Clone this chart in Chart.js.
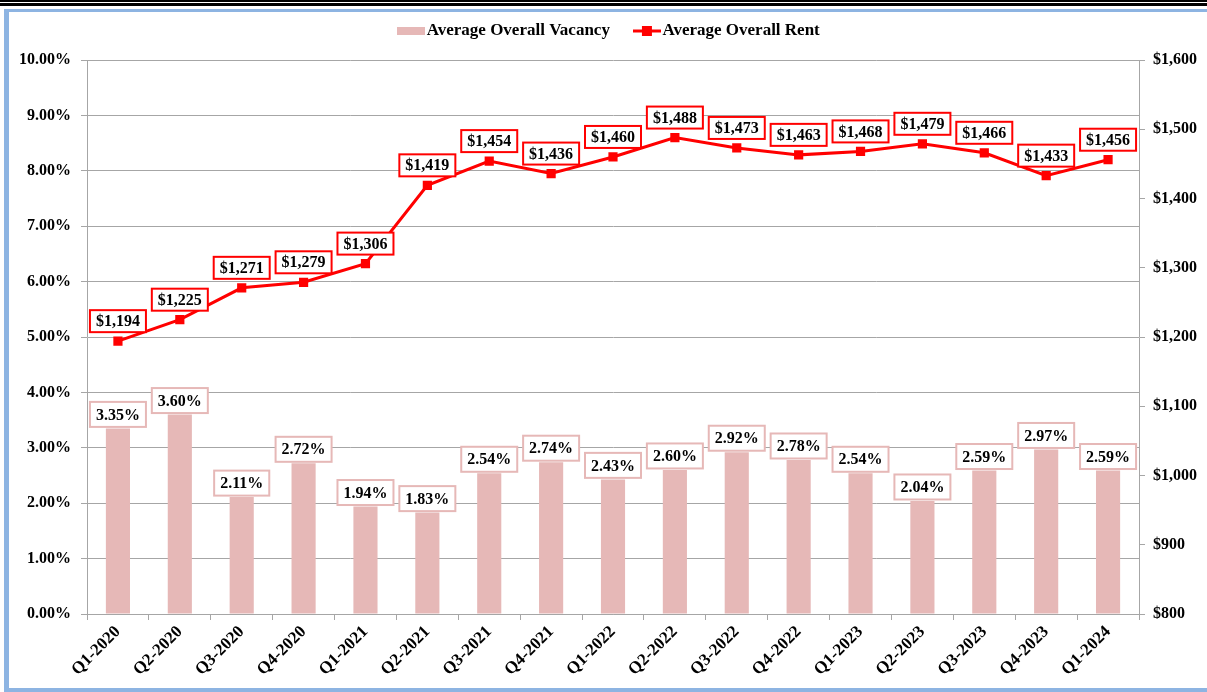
<!DOCTYPE html>
<html><head><meta charset="utf-8">
<script src="https://cdn.jsdelivr.net/npm/chart.js@4.4.1/dist/chart.umd.min.js"></script>
<style>
html,body{margin:0;padding:0;background:#fff;}
#wrap{position:relative;width:1207px;height:692px;overflow:hidden;background:#fff;}
canvas{position:absolute;left:0;top:0;}
.f{position:absolute;}
</style></head><body>
<div id="wrap">
<canvas id="c" width="1207" height="692"></canvas>
<div class="f" style="left:0;top:0;width:1207px;height:2px;background:#000"></div>
<div class="f" style="left:0;top:3px;width:1207px;height:3px;background:#000"></div>
<div class="f" style="left:4px;top:9px;width:1203px;height:3px;background:#8db4e2"></div>
<div class="f" style="left:4px;top:9px;width:5px;height:683px;background:#8db4e2"></div>
<div class="f" style="left:4px;top:688px;width:1203px;height:4px;background:#8db4e2"></div>
</div>
<script>
const categories = ['Q1-2020','Q2-2020','Q3-2020','Q4-2020','Q1-2021','Q2-2021','Q3-2021','Q4-2021','Q1-2022','Q2-2022','Q3-2022','Q4-2022','Q1-2023','Q2-2023','Q3-2023','Q4-2023','Q1-2024'];
const vacancy = [3.35,3.60,2.11,2.72,1.94,1.83,2.54,2.74,2.43,2.60,2.92,2.78,2.54,2.04,2.59,2.97,2.59];
const rent = [1194,1225,1271,1279,1306,1419,1454,1436,1460,1488,1473,1463,1468,1479,1466,1433,1456];
const seriesNames = ['Average Overall Vacancy','Average Overall Rent'];

const FONT = '"Liberation Serif", "Times New Roman", serif';
const PINK = '#e6b8b7', RED = '#ff0000', GRID = '#a6a6a6';

function mk(w,h,fn){const c=document.createElement('canvas');c.width=w;c.height=h;fn(c.getContext('2d'));return c;}
const vacIcon = mk(28,8,g=>{g.fillStyle=PINK;g.fillRect(0,0,28,8);});
const rentIcon = mk(28,10,g=>{g.fillStyle=RED;g.fillRect(0,4,28,3);g.fillRect(9,0,10,10);});
const legendIcons = [vacIcon, rentIcon];

const legendFix = {
  id:'legendFix',
  beforeLayout(chart){
    const lg = chart.legend;
    if(lg && !lg.__p){
      const f = lg.fit;
      lg.fit = function(){ f.call(this); this.height = 68; };
      lg.__p = true;
    }
  }
};

const boxLabels = {
  id:'boxLabels',
  afterDatasetsDraw(chart){
    const ctx = chart.ctx;
    ctx.save();
    ctx.font = 'bold 16px ' + FONT;
    ctx.textAlign = 'center'; ctx.textBaseline = 'middle';
    const drawBox = (text,x,cy,h,border)=>{
      const w = ctx.measureText(text).width + 12;
      ctx.fillStyle = '#fff'; ctx.fillRect(x-w/2, cy-h/2, w, h);
      ctx.lineWidth = 2; ctx.strokeStyle = border; ctx.strokeRect(x-w/2, cy-h/2, w, h);
      ctx.fillStyle = '#000'; ctx.fillText(text, x, cy+1);
    };
    chart.getDatasetMeta(0).data.forEach((el,i)=>drawBox(vacancy[i].toFixed(2)+'%', el.x, el.y-14, 25, PINK));
    chart.getDatasetMeta(1).data.forEach((el,i)=>drawBox('$'+rent[i].toLocaleString('en-US'), el.x, el.y-20, 22, RED));
    ctx.restore();
  }
};

const tickFont = {family:FONT, size:16, weight:'bold'};

new Chart(document.getElementById('c'), {
  data:{
    labels: categories,
    datasets:[
      {type:'bar', label:seriesNames[0], data:vacancy, backgroundColor:PINK, yAxisID:'y', order:2,
       categoryPercentage:1, barPercentage:0.39},
      {type:'line', label:seriesNames[1], data:rent, borderColor:RED, backgroundColor:RED, borderWidth:3,
       pointStyle:'rect', pointRadius:6.5, pointBackgroundColor:RED, pointBorderWidth:0, tension:0, yAxisID:'y1', order:1}
    ]
  },
  options:{
    responsive:false, animation:false, devicePixelRatio:1,
    layout:{padding:{left:17,right:0,top:-8,bottom:0}},
    plugins:{
      tooltip:{enabled:false},
      legend:{position:'top', labels:{
        usePointStyle:true, pointStyleWidth:14, padding:30, color:'#000',
        font:{family:FONT, size:17, weight:'bold'},
        sort:(a,b)=>a.datasetIndex-b.datasetIndex,
        generateLabels(chart){
          const items = Chart.defaults.plugins.legend.labels.generateLabels(chart);
          items.forEach(it=>{ it.pointStyle = legendIcons[it.datasetIndex]; });
          return items;
        }
      }}
    },
    scales:{
      x:{offset:true,
         grid:{display:true, drawOnChartArea:false, offset:true, color:GRID, tickLength:6},
         border:{display:true, color:GRID},
         ticks:{maxRotation:45, minRotation:45, autoSkip:false, color:'#000', font:{family:FONT, size:17, weight:'bold'}, padding:2},
         afterFit(s){ s.height = 78; }},
      y:{position:'left', min:0, max:10,
         ticks:{stepSize:1, color:'#000', font:tickFont, padding:10, callback:v=>v.toFixed(2)+'%'},
         grid:{color:GRID, tickLength:6}, border:{color:GRID},
         afterFit(s){ s.width = 70; }},
      y1:{position:'right', min:800, max:1600,
         ticks:{stepSize:100, color:'#000', font:tickFont, padding:8, callback:v=>'$'+v.toLocaleString('en-US')},
         grid:{drawOnChartArea:false, color:GRID, tickLength:6}, border:{color:GRID},
         afterFit(s){ s.width = 68; }}
    }
  },
  plugins:[legendFix, boxLabels]
});
</script>
</body></html>
